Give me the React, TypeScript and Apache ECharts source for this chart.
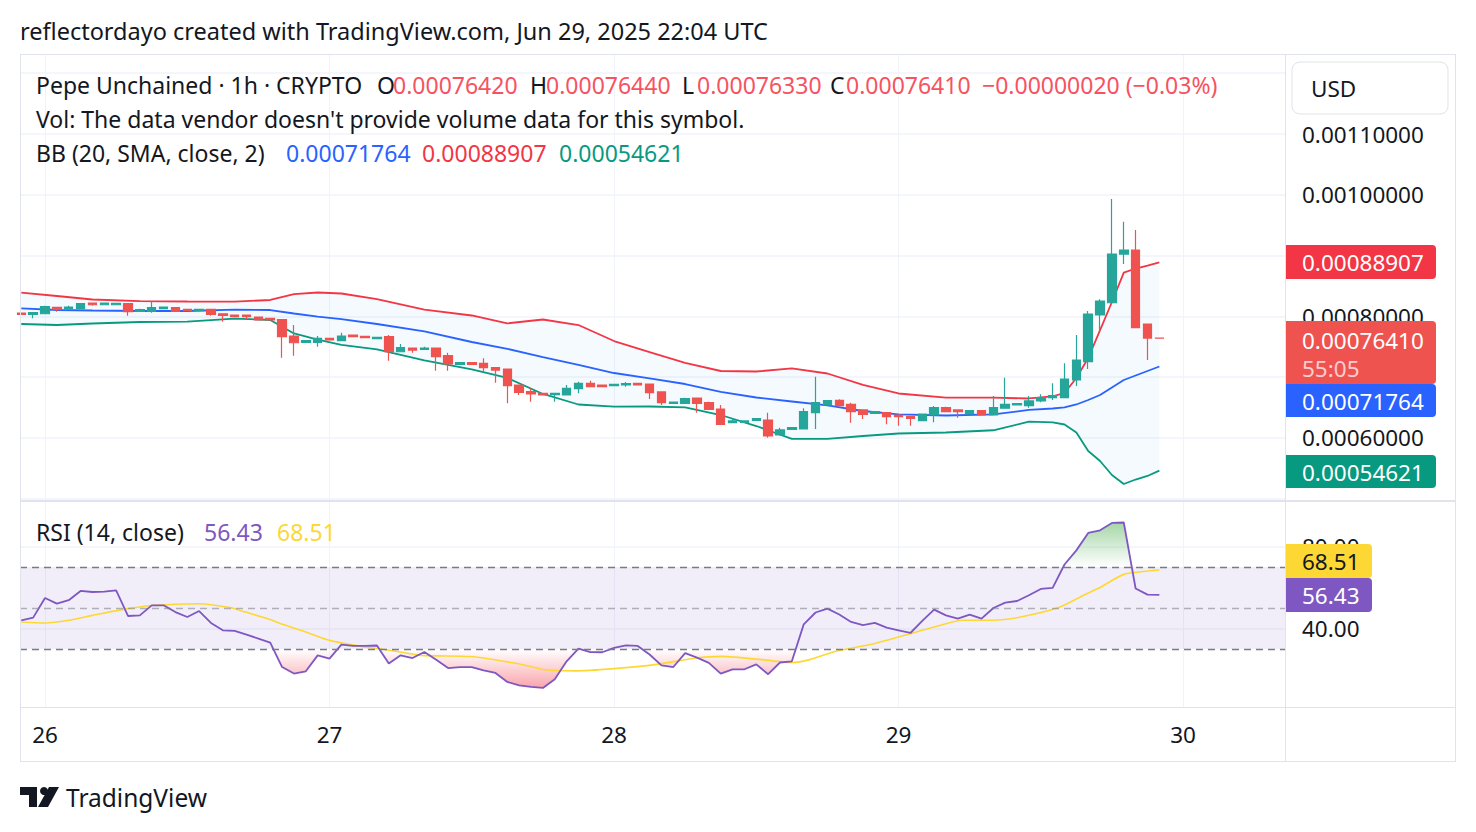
import React, { useEffect, useRef } from 'react';
import * as echarts from 'echarts';

const FONT = '"Noto Sans", "DejaVu Sans", sans-serif';

// Hourly candles, index 0 = Jun 25 22:00 UTC ... index 96 = Jun 29 22:00 UTC
const opens = [
  0.0008056, 0.0008035, 0.0008044, 0.000815, 0.0008127, 0.0008127, 0.000822, 0.0008192, 0.0008192, 0.0008209,
  0.0008084, 0.0008084, 0.0008127, 0.0008143, 0.0008117, 0.0008094, 0.0008117, 0.0008044, 0.0008023, 0.0008023,
  0.000799, 0.0007969, 0.0007946, 0.0007678, 0.0007574, 0.0007574, 0.000764, 0.00076, 0.0007694, 0.0007673,
  0.0007633, 0.0007666, 0.0007419, 0.000748, 0.0007459, 0.000748, 0.0007354, 0.0007212, 0.0007239, 0.0007229,
  0.0007156, 0.0007135, 0.0006872, 0.0006762, 0.0006735, 0.0006712, 0.0006707, 0.0006811, 0.00069, 0.0006872,
  0.000686, 0.0006872, 0.00069, 0.0006888, 0.0006757, 0.0006571, 0.0006571, 0.0006658, 0.0006581, 0.0006477,
  0.0006252, 0.0006258, 0.0006291, 0.0006296, 0.0006049, 0.0006143, 0.0006148, 0.0006416, 0.0006543, 0.000662,
  0.0006554, 0.0006461, 0.0006406, 0.0006416, 0.0006378, 0.000635, 0.0006285, 0.0006378, 0.0006498, 0.0006461,
  0.0006395, 0.0006449, 0.0006378, 0.0006489, 0.0006543, 0.0006531, 0.0006609, 0.0006663, 0.0006663, 0.0006954,
  0.0007255, 0.0008023, 0.0008225, 0.0009026, 0.0009092, 0.0007875, 0.0007642,
];
const closes = [
  0.0008031, 0.0008061, 0.000816, 0.0008117, 0.0008155, 0.0008209, 0.0008192, 0.000822, 0.0008215, 0.0008077,
  0.000811, 0.0008143, 0.0008155, 0.0008084, 0.0008094, 0.0008117, 0.0008035, 0.0008018, 0.0007995, 0.0007995,
  0.0007941, 0.0007941, 0.0007666, 0.0007567, 0.00076, 0.000764, 0.0007612, 0.0007678, 0.0007666, 0.000765,
  0.0007656, 0.0007419, 0.0007485, 0.0007447, 0.000748, 0.0007337, 0.0007217, 0.0007239, 0.0007212, 0.0007156,
  0.0007118, 0.000686, 0.0006752, 0.0006724, 0.0006707, 0.0006735, 0.0006817, 0.00069, 0.0006844, 0.0006844,
  0.0006883, 0.0006893, 0.0006872, 0.0006745, 0.0006581, 0.0006592, 0.0006646, 0.0006571, 0.0006472, 0.0006225,
  0.000628, 0.000628, 0.0006317, 0.0006033, 0.0006132, 0.0006169, 0.0006433, 0.0006581, 0.0006614, 0.0006531,
  0.0006433, 0.000639, 0.0006433, 0.000635, 0.000635, 0.0006324, 0.0006395, 0.0006498, 0.0006433, 0.0006433,
  0.0006449, 0.0006378, 0.0006498, 0.0006554, 0.0006564, 0.0006609, 0.0006663, 0.0006696, 0.000697, 0.0007283,
  0.0008039, 0.0008253, 0.0009026, 0.0009092, 0.0007814, 0.0007643, 0.0007641,
];
const lows = [
  0.0008023, 0.0007969, 0.0008044, 0.0008077, 0.0008127, 0.0008127, 0.0008176, 0.0008192, 0.0008192, 0.0008012,
  0.0008084, 0.0008061, 0.0008127, 0.0008084, 0.0008094, 0.0008094, 0.0008012, 0.0007913, 0.0007995, 0.0007957,
  0.0007941, 0.0007941, 0.0007321, 0.0007354, 0.0007574, 0.0007502, 0.0007612, 0.00076, 0.0007666, 0.000765,
  0.0007633, 0.0007271, 0.0007419, 0.0007403, 0.0007459, 0.0007107, 0.0007107, 0.0007212, 0.0007212, 0.000709,
  0.000691, 0.0006571, 0.0006707, 0.0006597, 0.0006707, 0.0006597, 0.0006707, 0.0006735, 0.0006844, 0.0006844,
  0.000686, 0.0006844, 0.0006872, 0.0006641, 0.0006543, 0.0006571, 0.0006571, 0.0006416, 0.0006472, 0.0006225,
  0.0006242, 0.0006258, 0.0006291, 0.0006005, 0.0006049, 0.0006143, 0.0006148, 0.0006148, 0.0006543, 0.0006531,
  0.0006252, 0.0006313, 0.0006406, 0.0006225, 0.0006202, 0.0006202, 0.0006285, 0.0006258, 0.0006433, 0.0006334,
  0.0006395, 0.0006378, 0.0006378, 0.0006489, 0.0006543, 0.0006498, 0.0006587, 0.0006625, 0.0006663, 0.0006855,
  0.0007135, 0.0007748, 0.0008225, 0.0008862, 0.0007814, 0.0007283, 0.0007633,
];
const highs = [
  0.0008061, 0.0008061, 0.0008176, 0.000815, 0.0008176, 0.0008209, 0.000822, 0.000822, 0.0008215, 0.0008209,
  0.0008127, 0.0008253, 0.0008155, 0.0008143, 0.0008117, 0.0008117, 0.0008117, 0.0008044, 0.0008023, 0.0008023,
  0.000799, 0.0007969, 0.0007957, 0.0007859, 0.00076, 0.0007678, 0.000764, 0.0007732, 0.0007694, 0.0007673,
  0.0007656, 0.0007694, 0.0007546, 0.000748, 0.0007502, 0.000748, 0.0007403, 0.0007239, 0.0007239, 0.0007311,
  0.0007156, 0.0007135, 0.0006872, 0.0006817, 0.0006735, 0.0006735, 0.0006872, 0.0006926, 0.0006942, 0.0006872,
  0.0006883, 0.0006921, 0.00069, 0.0006888, 0.0006757, 0.0006592, 0.0006663, 0.0006658, 0.0006597, 0.0006543,
  0.0006324, 0.000628, 0.0006317, 0.0006416, 0.0006169, 0.0006169, 0.0006489, 0.0007008, 0.0006614, 0.0006636,
  0.0006581, 0.0006461, 0.0006433, 0.0006416, 0.0006378, 0.000635, 0.0006395, 0.0006526, 0.0006515, 0.0006461,
  0.0006461, 0.0006449, 0.0006691, 0.0006992, 0.0006564, 0.0006691, 0.0006719, 0.00069, 0.0007229, 0.0007694,
  0.0008089, 0.0008281, 0.0009931, 0.0009558, 0.0009421, 0.0007884, 0.0007644,
];

// Bollinger Bands (20, SMA, close, 2) at these candle indices
const bbIdx = [0, 3, 6, 10, 14, 18, 21, 23, 25, 27, 30, 34, 38, 41, 44, 47, 50, 53, 56, 59, 62, 65, 68, 71, 74, 78, 82, 85, 87, 88, 89, 90, 91, 92, 93, 94, 95, 96];
const bbUpper = [
  0.000839, 0.0008336, 0.0008278, 0.0008253, 0.0008245, 0.0008242, 0.000827, 0.0008368, 0.0008393, 0.0008377,
  0.0008286, 0.0008113, 0.0008015, 0.0007886, 0.0007949, 0.0007858, 0.0007595, 0.0007414, 0.0007234, 0.0007102,
  0.0007094, 0.0007146, 0.0007061, 0.0006872, 0.0006732, 0.0006663, 0.0006663, 0.000665, 0.0006683, 0.000674,
  0.0006987, 0.0007316, 0.0007776, 0.0008237, 0.0008719, 0.0008788, 0.0008837, 0.00088907,
];
const bbBasis = [
  0.0008133, 0.0008105, 0.0008097, 0.0008089, 0.0008089, 0.0008113, 0.0008105, 0.0008048, 0.0007998, 0.0007957,
  0.0007875, 0.0007752, 0.0007579, 0.0007467, 0.0007332, 0.0007201, 0.0007069, 0.0006979, 0.0006888, 0.0006757,
  0.0006666, 0.00066, 0.0006535, 0.0006444, 0.0006387, 0.000637, 0.000639, 0.0006461, 0.0006485, 0.0006502,
  0.0006551, 0.0006625, 0.0006707, 0.0006831, 0.0006954, 0.0007028, 0.0007102, 0.00071764,
];
const bbLower = [
  0.0007875, 0.0007859, 0.0007883, 0.0007908, 0.0007913, 0.0007965, 0.0007941, 0.0007719, 0.000762, 0.000753,
  0.0007456, 0.0007275, 0.0007127, 0.0006987, 0.0006724, 0.0006551, 0.0006515, 0.0006518, 0.0006502, 0.0006378,
  0.0006197, 0.0005984, 0.0005984, 0.0006033, 0.0006074, 0.000609, 0.0006127, 0.0006268, 0.0006258, 0.0006222,
  0.000609, 0.0005786, 0.0005622, 0.0005391, 0.0005243, 0.0005317, 0.0005375, 0.00054621,
];

// RSI (14, close), one value per candle
const rsiValues = [
  44, 45.3, 54.9, 52.1, 53.8, 58.3, 57.8, 58, 58.6, 46.1,
  46.4, 51.3, 51.3, 48, 45.6, 48.5, 42.7, 39.1, 38.8, 37,
  35.1, 33.1, 21.2, 18, 19.1, 26.9, 25.3, 32.1, 31.5, 31.5,
  31.7, 22.9, 26.9, 25.6, 28.5, 24.8, 20.7, 21.2, 21.2, 19.6,
  18.3, 13.9, 12.3, 11.5, 11, 15.2, 24, 30.2, 28.5, 28.4,
  30.5, 31.8, 31.5, 27.3, 22, 21.2, 28, 25.8, 23.2, 18,
  20.1, 20.1, 22.5, 17.7, 23.4, 24, 42, 47.8, 49.7, 46.8,
  43.2, 41.6, 42.7, 40.4, 39.1, 37.8, 43.7, 49.2, 46.4, 44.8,
  46.8, 44.8, 50, 52.6, 53.4, 56.2, 59.3, 59.8, 71.2, 78.1,
  86.6, 87.9, 91.5, 91.7, 59.5, 56.5, 56.43,
];
// RSI-based MA, read at these (fractional) candle positions
const rsiMaIdx = [0, 2, 4, 6, 8.5, 11, 15, 17.6, 18.9, 20.8, 22.1, 24, 26, 28.9, 30.5, 33.7, 37.9, 41.8, 44, 46.6, 50, 53.6, 56.8, 59, 61.6, 65, 66.5, 68.7, 71.7, 74.5, 77, 79.4, 82, 84.3, 87.5, 89.7, 91, 93, 96];
const rsiMaValues = [43.2, 42.7, 44, 46.4, 49.2, 51.2, 52.1, 50.2, 48, 44.8, 41.9, 38.3, 34.2, 31, 29.9, 26.9, 26.3, 22.9, 20, 19.3, 20.4, 22.5, 25.5, 26.4, 25.3, 23.4, 24.8, 28.9, 32.3, 36.7, 40.7, 44, 44, 45.6, 50.2, 56.5, 60, 66.4, 68.51];

const dayIdx = [2, 26, 50, 74, 98];
const dayLabels = ['26', '27', '28', '29', '30'];
const priceGridLevels = [0.0005, 0.0006, 0.0007, 0.0008, 0.0009, 0.001, 0.0011, 0.0012];
const priceTickLabels = [0.0006, 0.0008, 0.001, 0.0011];
const rsiTickLabels = [40, 80];
const rsiLevels = [70, 50, 30];

const X_MIN = -0.11;
const X_MAX = 106.6;

const fmt8 = (v: number) => v.toFixed(8);
const minus = (s: string) => s.replace(/-/g, '\u2212');

export default function App() {
  const ref = useRef<HTMLDivElement>(null);

  useEffect(() => {
    if (!ref.current) return;
    const chart = echarts.init(ref.current, undefined, { renderer: 'svg' });

    const n = opens.length;
    const last = n - 1;
    const candleData = opens.map((o, i) => [i, o, closes[i], lows[i], highs[i]]);
    const rsiData = rsiValues.map((v, i) => [i, v]);
    const rsiMaData = rsiMaIdx.map((x, k) => [x, rsiMaValues[k]]);
    const bbLine = (arr: number[]) => bbIdx.map((x, k) => [x, arr[k]]);

    const chg = closes[last] - closes[last - 1];
    const chgPct = (chg / closes[last - 1]) * 100;

    const txt = (text: string, x: number, y: number, fill: string, size = 23, extra: any = {}) => ({
      type: 'text',
      z: 110,
      silent: true,
      style: {
        text, x, y, fill,
        font: `${size}px ${FONT}`,
        align: 'left', verticalAlign: 'middle',
        textAlign: 'left', textVerticalAlign: 'middle',
        ...extra,
      },
    });
    const box = (x: number, y: number, w: number, h: number, fill: string) => ({
      type: 'rect', z: 105, silent: true,
      shape: { x, y, width: w, height: h, r: [0, 4, 4, 0] },
      style: { fill },
    });
    const hline = (x1: number, x2: number, y: number, w = 1) => ({
      type: 'line', z: 60, silent: true,
      shape: { x1, y1: y, x2, y2: y },
      style: { stroke: '#E0E3EB', lineWidth: w },
    });
    const vline = (x: number, y1: number, y2: number, w = 1) => ({
      type: 'line', z: 60, silent: true,
      shape: { x1: x, y1, x2: x, y2 },
      style: { stroke: '#E0E3EB', lineWidth: w },
    });

    const xBase = {
      type: 'value', min: X_MIN, max: X_MAX,
      axisLine: { show: false },
      axisTick: { show: false, customValues: dayIdx },
      axisLabel: { show: false },
      splitLine: { show: true, lineStyle: { color: '#F0F3FA', width: 1 } },
    };
    const hiddenX = (gridIndex: number) => ({
      type: 'value', gridIndex, min: X_MIN, max: X_MAX, show: false,
      splitLine: { show: false },
    });

    const option: any = {
      animation: false,
      backgroundColor: '#ffffff',
      grid: [
        { left: 20, top: 55, width: 1265, height: 445, outerBoundsMode: 'none', containLabel: false },
        { left: 20, top: 502, width: 1265, height: 205, outerBoundsMode: 'none', containLabel: false },
        { left: 20, top: 502, width: 1265, height: 65, outerBoundsMode: 'none', containLabel: false },
        { left: 20, top: 649, width: 1265, height: 58, outerBoundsMode: 'none', containLabel: false },
      ],
      xAxis: [
        { ...xBase, gridIndex: 0 },
        {
          ...xBase, gridIndex: 1,
          axisLabel: {
            show: true, customValues: dayIdx, margin: 16,
            color: '#131722', fontSize: 22.5, fontFamily: FONT,
            formatter: (v: number) => dayLabels[dayIdx.indexOf(v)] ?? '',
          },
        },
        hiddenX(2),
        hiddenX(3),
      ],
      yAxis: [
        {
          type: 'value', gridIndex: 0, position: 'right', min: 0.000498, max: 0.00123, scale: true,
          axisLine: { show: false },
          axisTick: { show: false, customValues: priceGridLevels },
          splitLine: { show: true, lineStyle: { color: '#F0F3FA', width: 1.5 } },
          axisLabel: {
            customValues: priceTickLabels, margin: 17, color: '#131722',
            fontSize: 22.5, fontFamily: FONT, formatter: (v: number) => fmt8(v),
          },
        },
        {
          type: 'value', gridIndex: 1, position: 'right', min: 1.7, max: 101.7,
          axisLine: { show: false },
          axisTick: { show: false, customValues: rsiTickLabels },
          splitLine: { show: true, lineStyle: { color: '#F0F3FA', width: 1.5 } },
          axisLabel: {
            customValues: rsiTickLabels, margin: 17, color: '#131722',
            fontSize: 22.5, fontFamily: FONT, formatter: (v: number) => v.toFixed(2),
          },
        },
        { type: 'value', gridIndex: 2, min: 70, max: 101.7, show: false, splitLine: { show: false } },
        { type: 'value', gridIndex: 3, min: 1.7, max: 30, show: false, splitLine: { show: false } },
      ],
      series: [
        {
          type: 'custom', name: 'bbBand', xAxisIndex: 0, yAxisIndex: 0, z: 1, silent: true,
          data: [[bbIdx[0], bbBasis[0]]],
          encode: { x: 0, y: 1 },
          renderItem: (_p: any, api: any) => {
            const up = bbIdx.map((x, k) => api.coord([x, bbUpper[k]]));
            const lo = bbIdx.map((x, k) => api.coord([x, bbLower[k]])).reverse();
            return {
              type: 'polygon',
              shape: { points: up.concat(lo) },
              style: { fill: 'rgba(33,150,243,0.05)' },
            };
          },
        },
        {
          type: 'line', name: 'BB upper', xAxisIndex: 0, yAxisIndex: 0, z: 2,
          data: bbLine(bbUpper), symbol: 'none', silent: true,
          lineStyle: { color: '#F23645', width: 1.8 },
        },
        {
          type: 'line', name: 'BB basis', xAxisIndex: 0, yAxisIndex: 0, z: 2,
          data: bbLine(bbBasis), symbol: 'none', silent: true,
          lineStyle: { color: '#2962FF', width: 1.8 },
        },
        {
          type: 'line', name: 'BB lower', xAxisIndex: 0, yAxisIndex: 0, z: 2,
          data: bbLine(bbLower), symbol: 'none', silent: true,
          lineStyle: { color: '#089981', width: 1.8 },
        },
        {
          type: 'candlestick', name: 'Pepe Unchained', xAxisIndex: 0, yAxisIndex: 0, z: 3,
          data: candleData, barWidth: 9, clip: true, silent: true,
          itemStyle: {
            color: '#26A69A', color0: '#EF5350',
            borderColor: '#26A69A', borderColor0: '#EF5350', borderWidth: 1.2,
          },
        },
        {
          type: 'line', name: 'OB fill', xAxisIndex: 2, yAxisIndex: 2, z: 1,
          data: rsiData, symbol: 'none', silent: true, clip: true,
          lineStyle: { width: 0, opacity: 0 },
          areaStyle: {
            origin: 'start',
            color: {
              type: 'linear', global: true, x: 0, y: 567, x2: 0, y2: 505,
              colorStops: [
                { offset: 0, color: 'rgba(76,175,80,0)' },
                { offset: 1, color: 'rgba(76,175,80,1)' },
              ],
            },
          },
        },
        {
          type: 'line', name: 'OS fill', xAxisIndex: 3, yAxisIndex: 3, z: 1,
          data: rsiData, symbol: 'none', silent: true, clip: true,
          lineStyle: { width: 0, opacity: 0 },
          areaStyle: {
            origin: 'end',
            color: {
              type: 'linear', global: true, x: 0, y: 649, x2: 0, y2: 710,
              colorStops: [
                { offset: 0, color: 'rgba(242,54,69,0)' },
                { offset: 1, color: 'rgba(242,54,69,1)' },
              ],
            },
          },
        },
        {
          type: 'line', name: 'RSI', xAxisIndex: 1, yAxisIndex: 1, z: 4,
          data: rsiData, symbol: 'none', silent: true,
          lineStyle: { color: '#7E57C2', width: 1.8 },
          markArea: {
            silent: true,
            itemStyle: { color: 'rgba(126,87,194,0.1)' },
            data: [[{ yAxis: rsiLevels[2] }, { yAxis: rsiLevels[0] }]],
          },
          markLine: {
            silent: true, symbol: ['none', 'none'], label: { show: false }, animation: false,
            data: [
              { yAxis: rsiLevels[0], lineStyle: { color: '#787B86', type: [7, 5], width: 1.3 } },
              { yAxis: rsiLevels[1], lineStyle: { color: 'rgba(120,123,134,0.55)', type: [7, 5], width: 1.3 } },
              { yAxis: rsiLevels[2], lineStyle: { color: '#787B86', type: [7, 5], width: 1.3 } },
            ],
          },
        },
        {
          type: 'line', name: 'RSI MA', xAxisIndex: 1, yAxisIndex: 1, z: 3,
          data: rsiMaData, symbol: 'none', silent: true, smooth: 0.2,
          lineStyle: { color: '#FDD835', width: 1.6 },
        },
      ],
      graphic: [
        // frame
        hline(20, 1456, 54.5),
        hline(20, 1456, 501, 2),
        hline(20, 1456, 707.5),
        hline(20, 1456, 761.5),
        vline(20.5, 54, 762),
        vline(1285.5, 54, 762),
        vline(1455.5, 54, 762),
        // header
        txt('reflectordayo created with TradingView.com, Jun 29, 2025 22:04 UTC', 20, 31, '#131722', 23.5),
        txt('Pepe Unchained \u00b7 1h \u00b7 CRYPTO', 36, 85, '#131722'),
        txt('O', 377, 85, '#131722'),
        txt(fmt8(opens[last]), 393, 85, '#F7525F'),
        txt('H', 530, 85, '#131722'),
        txt(fmt8(highs[last]), 546, 85, '#F7525F'),
        txt('L', 682, 85, '#131722'),
        txt(fmt8(lows[last]), 697, 85, '#F7525F'),
        txt('C', 830, 85, '#131722'),
        txt(fmt8(closes[last]), 846, 85, '#F7525F'),
        txt(minus(`${chg.toFixed(8)} (${chgPct.toFixed(2)}%)`), 982, 85, '#F7525F'),
        txt("Vol: The data vendor doesn't provide volume data for this symbol.", 36, 119, '#131722'),
        txt('BB (20, SMA, close, 2)', 36, 153, '#131722'),
        txt(fmt8(bbBasis[bbBasis.length - 1]), 286, 153, '#2962FF'),
        txt(fmt8(bbUpper[bbUpper.length - 1]), 422, 153, '#F23645'),
        txt(fmt8(bbLower[bbLower.length - 1]), 559, 153, '#089981'),
        txt('RSI (14, close)', 36, 532, '#131722'),
        txt(rsiValues[last].toFixed(2), 204, 532, '#7E57C2'),
        txt(rsiMaValues[rsiMaValues.length - 1].toFixed(2), 277, 532, '#FDD835'),
        // USD box
        {
          type: 'rect', z: 105, silent: true,
          shape: { x: 1292, y: 62, width: 156, height: 52, r: 8 },
          style: { fill: '#ffffff', stroke: '#E0E3EB', lineWidth: 1 },
        },
        txt('USD', 1311, 88, '#131722', 22.5),
        // price scale labels
        box(1286, 245, 150, 34, '#F23645'),
        txt(fmt8(bbUpper[bbUpper.length - 1]), 1302, 262, '#ffffff', 22.5),
        box(1286, 321, 150, 63, '#EF5350'),
        txt(fmt8(closes[last]), 1302, 340, '#ffffff', 22.5),
        txt('55:05', 1302, 368, 'rgba(255,255,255,0.72)', 22.5),
        box(1286, 384, 150, 33, '#2962FF'),
        txt(fmt8(bbBasis[bbBasis.length - 1]), 1302, 401, '#ffffff', 22.5),
        box(1286, 455, 150, 33, '#089981'),
        txt(fmt8(bbLower[bbLower.length - 1]), 1302, 472, '#ffffff', 22.5),
        box(1286, 544, 86, 34, '#FDD835'),
        txt(rsiMaValues[rsiMaValues.length - 1].toFixed(2), 1302, 561, '#131722', 22.5),
        box(1286, 578, 86, 34, '#7E57C2'),
        txt(rsiValues[last].toFixed(2), 1302, 595, '#ffffff', 22.5),
        // TradingView logo
        {
          type: 'group', z: 110, silent: true,
          children: [
            { type: 'rect', shape: { x: 20, y: 787, width: 17, height: 8 }, style: { fill: '#131722' } },
            { type: 'rect', shape: { x: 29, y: 787, width: 8, height: 20 }, style: { fill: '#131722' } },
            { type: 'circle', shape: { cx: 44, cy: 791, r: 4 }, style: { fill: '#131722' } },
            { type: 'polygon', shape: { points: [[49, 787], [59, 787], [48, 807], [38, 807]] }, style: { fill: '#131722' } },
          ],
        },
        txt('TradingView', 66, 797, '#131722', 24.5),
      ],
    };

    chart.setOption(option);
    return () => chart.dispose();
  }, []);

  return (
    <div
      ref={ref}
      style={{ position: 'fixed', left: 0, top: 0, width: 1476, height: 832, background: '#ffffff' }}
    />
  );
}
